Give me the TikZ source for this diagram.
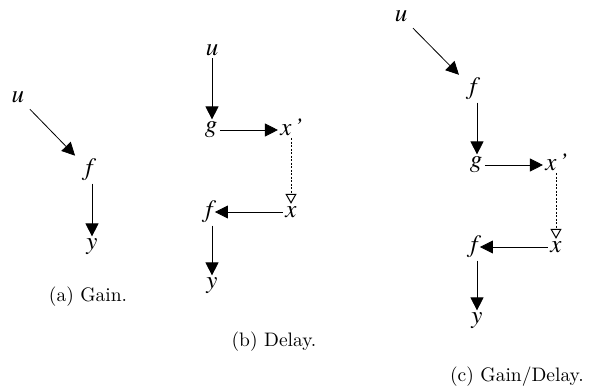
\documentclass[tikz,border=0pt]{standalone}
\usepackage{fontspec}
\usetikzlibrary{arrows.meta}
\newfontface\varit{texgyretermes-italic.otf}
\newfontfamily\capfont{lmroman10-regular.otf}
\begin{document}
\begin{tikzpicture}[x=1pt,y=-1pt,
  var/.style={font=\varit\fontsize{25}{25}\selectfont, inner sep=0pt, outer sep=2.5pt},
  captxt/.style={font=\capfont\fontsize{19.5}{20}\selectfont, inner sep=0pt},
  arr/.style={line width=0.8pt, -{Triangle[length=13pt,width=13pt]}},
  delay/.style={line width=0.8pt, dash pattern=on 2pt off 1.5pt,
    -{Triangle[open,length=10pt,width=11pt,line width=1pt]}}]
\useasboundingbox (0,0) rectangle (589,390);
\newcommand\xprime{x\rlap{\smash{\kern2.5pt’}}}

% (a) gain
\node[var] (ua) at (18,97) {u};
\node[var] (fa) at (89,170) {f};
\node[var] (ya) at (92,247) {y};
\draw[arr, shorten <=17pt, shorten >=20pt] (ua.center) -- (fa.center);
\draw[arr] (ya |- fa.south) -- (ya);
\node[captxt] (capa) at (88,297) {(a) Gain.};

% (b) delay
\node[var] (ub) at (212,50) {u};
\node[var] (gb) at (211,130) {g};
\node[var] (xpb) at (286,130) {\xprime};
\node[var] (xb) at (291,212) {x};
\node[var] (fb) at (209,212) {f};
\node[var] (yb) at (212,286) {y};
\draw[arr] (ub) -- (ub |- gb.north);
\draw[arr] (gb) -- (gb -| xpb.west);
\draw[delay] (xpb.south -| xb) -- (xb);
\draw[arr] (xb) -- (xb -| fb.east);
\draw[arr] (yb |- fb.south) -- (yb);
\node[captxt] (capb) at (274,342) {(b) Delay.};

% (c) gain followed by delay
\node[var] (uc) at (401,16) {u};
\node[var] (fc1) at (473,89) {f};
\node[var] (gc) at (476,165) {g};
\node[var] (xpc) at (551,165) {\xprime};
\node[var] (xc) at (556,247) {x};
\node[var] (fc2) at (474,247) {f};
\node[var] (yc) at (477,321) {y};
\draw[arr, shorten <=17pt, shorten >=20pt] (uc.center) -- (fc1.center);
\draw[arr] (yc |- fc1.south) -- (yc |- gc.north);
\draw[arr] (gc) -- (gc -| xpc.west);
\draw[delay] (xpc.south -| xc) -- (xc);
\draw[arr] (xc) -- (xc -| fc2.east);
\draw[arr] (yc |- fc2.south) -- (yc);
\node[captxt, anchor=east] (capc) at (584,377) {(c) Gain/Delay.};
\end{tikzpicture}
\end{document}
